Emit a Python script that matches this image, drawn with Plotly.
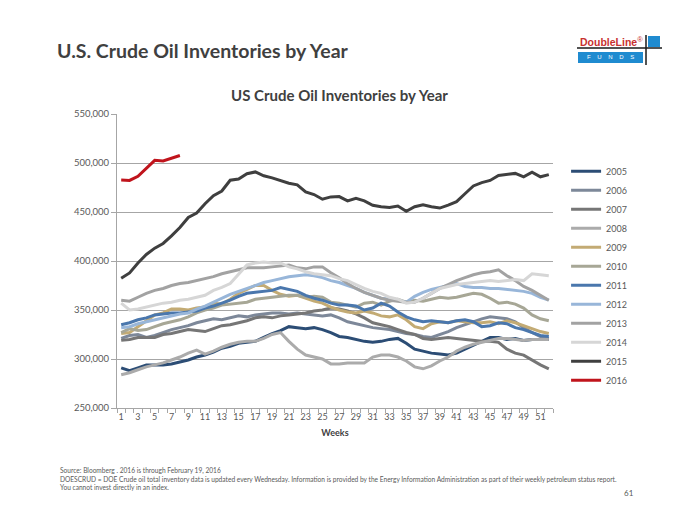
import plotly.graph_objects as go

weeks = list(range(1, 53))

y2005 = [291, 288, 291, 294, 294, 294, 295, 297, 299, 302, 304, 307, 311, 313, 316, 317, 318, 322, 326, 329, 333, 332, 331, 332, 330, 327,
         323, 322, 320, 318, 317, 318, 320, 321, 316, 310, 308, 306, 305, 304, 306, 310, 314, 318, 322, 322, 320, 321, 319, 320, 320, 320]
y2006 = [321, 324, 325, 322, 324, 327, 330, 332, 334, 337, 339, 341, 340, 342, 344, 343, 345, 346, 347, 347, 346, 347, 346, 345, 344, 345,
         342, 338, 336, 334, 332, 331, 330, 328, 326, 325, 323, 322, 325, 328, 332, 335, 338, 341, 343, 342, 341, 338, 332, 327, 323, 321]
y2007 = [319, 320, 322, 322, 322, 325, 326, 328, 330, 329, 328, 331, 334, 335, 337, 339, 342, 343, 342, 344, 345, 346, 347, 349, 350, 352,
         351, 349, 346, 342, 337, 335, 333, 330, 327, 325, 321, 320, 321, 322, 321, 320, 319, 318, 318, 317, 310, 306, 304, 299, 294, 290]
y2008 = [284, 286, 289, 292, 294, 296, 299, 302, 306, 309, 305, 308, 312, 315, 317, 318, 318, 321, 325, 327, 318, 310, 304, 302, 300, 295,
         295, 296, 296, 296, 302, 304, 304, 302, 298, 292, 290, 293, 298, 302, 308, 312, 315, 317, 319, 321, 321, 320, 319, 320, 320, 320]
y2009 = [326, 327, 333, 339, 345, 347, 351, 351, 350, 352, 353, 357, 356, 361, 367, 371, 375, 375, 370, 366, 364, 365, 362, 359, 357, 353,
         350, 348, 347, 349, 347, 344, 343, 345, 340, 333, 331, 336, 338, 337, 339, 338, 337, 337, 338, 336, 339, 337, 334, 331, 328, 326]
y2010 = [327, 331, 329, 330, 333, 336, 338, 340, 343, 347, 350, 352, 355, 356, 357, 358, 361, 362, 363, 364, 365, 365, 363, 364, 363, 358,
         357, 355, 353, 357, 358, 355, 359, 361, 358, 360, 359, 361, 363, 362, 363, 365, 367, 366, 362, 357, 358, 356, 352, 345, 341, 339]
y2011 = [335, 337, 340, 342, 345, 346, 347, 347, 348, 349, 352, 354, 357, 360, 364, 367, 368, 369, 370, 373, 371, 369, 365, 362, 360, 357,
         355, 355, 354, 350, 352, 357, 354, 348, 343, 340, 338, 339, 338, 337, 339, 340, 338, 333, 334, 337, 336, 332, 330, 327, 324, 323]
y2012 = [332, 333, 336, 338, 340, 342, 344, 346, 347, 351, 354, 358, 362, 366, 369, 372, 375, 378, 380, 382, 384, 385, 386, 385, 383, 380,
         378, 375, 372, 368, 365, 362, 361, 360, 358, 364, 368, 371, 373, 375, 377, 374, 373, 373, 372, 372, 371, 370, 369, 367, 363, 360]
y2013 = [360, 359, 363, 367, 370, 372, 375, 377, 378, 380, 382, 384, 387, 389, 391, 393, 393, 393, 394, 395, 396, 393, 392, 394, 394, 388,
         383, 377, 372, 368, 365, 362, 360, 359, 358, 358, 362, 367, 372, 376, 380, 383, 386, 388, 389, 391, 385, 380, 374, 370, 365, 360]
y2014 = [357, 350, 351, 353, 355, 357, 358, 360, 361, 363, 365, 370, 373, 377, 387, 396, 398, 399, 398, 398, 394, 392, 389, 387, 386, 385,
         382, 380, 376, 372, 369, 367, 363, 361, 357, 358, 362, 367, 372, 374, 376, 377, 378, 379, 380, 379, 380, 381, 380, 387, 386, 385]
y2015 = [382.4, 387.8, 397.9, 406.7, 413.1, 417.9, 425.6, 434.1, 444.4, 448.9, 458.5, 466.7, 471.4, 482.4, 483.7, 489.0, 490.9, 487.0,
         484.8, 482.2, 479.4, 477.7, 470.6, 467.8, 463.0, 465.4, 465.7, 461.4, 463.9, 461.4, 456.9, 455.3, 454.6, 456.1, 450.8, 455.4,
         457.4, 455.4, 454.0, 457.1, 460.6, 468.6, 476.6, 480.0, 482.2, 487.3, 488.2, 489.4, 485.9, 490.7, 485.9, 488.1]
y2016 = [482.6, 482.2, 486.5, 494.9, 502.7, 502.1, 504.6, 507.6]

series = [
    ("2005", y2005, "#2c4d75"),
    ("2006", y2006, "#7d8899"),
    ("2007", y2007, "#767676"),
    ("2008", y2008, "#ababab"),
    ("2009", y2009, "#c3ab74"),
    ("2010", y2010, "#a7a796"),
    ("2011", y2011, "#4a77ad"),
    ("2012", y2012, "#98b6d9"),
    ("2013", y2013, "#a2a2a2"),
    ("2014", y2014, "#d6d6d6"),
    ("2015", y2015, "#3f3f3f"),
    ("2016", y2016, "#c0141c"),
]

y_ticks = [250000, 300000, 350000, 400000, 450000, 500000, 550000]
x_ticks = list(range(1, 52, 2))

fig = go.Figure()
for name, vals, col in series:
    fig.add_trace(go.Scatter(
        x=weeks[:len(vals)], y=[v * 1000 for v in vals], name=name, mode="lines",
        line=dict(color=col, width=3)))

grey = "#595959"
# page has an 8px body margin: figure is 692x517 placed at (8, 8)
fig.update_layout(
    width=692, height=517,
    margin=dict(l=109, r=147, t=106, b=117),
    paper_bgcolor="white", plot_bgcolor="white",
    font=dict(family="Lato, Open Sans, sans-serif", color=grey),
    legend=dict(x=1.03, xanchor="left", y=0.45, yanchor="middle",
                font=dict(size=9, color=grey), itemwidth=30, bgcolor="rgba(0,0,0,0)"),
    xaxis=dict(range=[0.5, 52.5], tickvals=x_ticks, ticktext=[str(t) for t in x_ticks],
               ticks="", showgrid=False, showline=True, linecolor="#a6a6a6", linewidth=1,
               tickfont=dict(size=9, color=grey),
               minor=dict(ticks="outside", tick0=0.5, dtick=1, ticklen=4, tickcolor="#a6a6a6"),
               title=dict(text="<b>Weeks</b>", font=dict(size=9, color="#404040"), standoff=8)),
    yaxis=dict(range=[250000, 550000], tickvals=y_ticks, tickformat=",",
               ticks="outside", ticklen=5, tickcolor="#a6a6a6",
               showgrid=True, gridcolor="#a6a6a6", gridwidth=1,
               showline=True, linecolor="#a6a6a6", linewidth=1, zeroline=False,
               tickfont=dict(size=9.5, color=grey)),
)


def px(x):
    return (x - 117) / 436


def py(y):
    return (408 - y) / 294


# Titles
fig.add_annotation(xref="paper", yref="paper", x=px(55), y=py(50),
                   xanchor="left", yanchor="middle", showarrow=False,
                   text="<b>U.S. Crude Oil Inventories by Year</b>",
                   font=dict(size=19.5, color="#404040", family="Lato"))
fig.add_annotation(xref="paper", yref="paper", x=px(339), y=py(95),
                   xanchor="center", yanchor="middle", showarrow=False,
                   text="<b>US Crude Oil Inventories by Year</b>",
                   font=dict(size=15, color="#404040", family="Lato"))

# Footnotes
foot = ("Source: Bloomberg . 2016 is through February 19, 2016<br>"
        "DOESCRUD = DOE Crude oil total inventory data is updated every Wednesday. Information is provided by the Energy Information Administration as part of their weekly petroleum status report.<br>"
        "You cannot invest directly in an index.")
fig.add_annotation(xref="paper", yref="paper", x=px(58), y=py(464),
                   xanchor="left", yanchor="top", showarrow=False, align="left",
                   text=foot, font=dict(size=6.6, color=grey, family="Lato"))
fig.add_annotation(xref="paper", yref="paper", x=px(636), y=py(493),
                   xanchor="right", yanchor="middle", showarrow=False,
                   text="61", font=dict(size=8, color=grey, family="Lato"))

# Logo
fig.add_shape(type="rect", xref="paper", yref="paper", x0=px(578), x1=px(643), y0=py(63), y1=py(52),
              fillcolor="#1f8bd0", line=dict(width=0))
fig.add_shape(type="rect", xref="paper", yref="paper", x0=px(648), x1=px(660), y0=py(47), y1=py(36),
              fillcolor="#1f8bd0", line=dict(width=0))
fig.add_shape(type="line", xref="paper", yref="paper", x0=px(577), x1=px(662), y0=py(48), y1=py(48),
              line=dict(color="#1a1a1a", width=1.5))
fig.add_shape(type="line", xref="paper", yref="paper", x0=px(646), x1=px(646), y0=py(35), y1=py(65),
              line=dict(color="#1a1a1a", width=1.5))
fig.add_annotation(xref="paper", yref="paper", x=px(611), y=py(41), xanchor="center", yanchor="middle",
                   showarrow=False, text="<b>DoubleLine</b><sup>®</sup>",
                   font=dict(size=10.5, color="#c8312f", family="Liberation Sans"))
fig.add_annotation(xref="paper", yref="paper", x=px(610), y=py(57.5), xanchor="center", yanchor="middle",
                   showarrow=False, text="F    U    N    D    S",
                   font=dict(size=6, color="white", family="Liberation Sans"))

fig.write_html("out.html")
